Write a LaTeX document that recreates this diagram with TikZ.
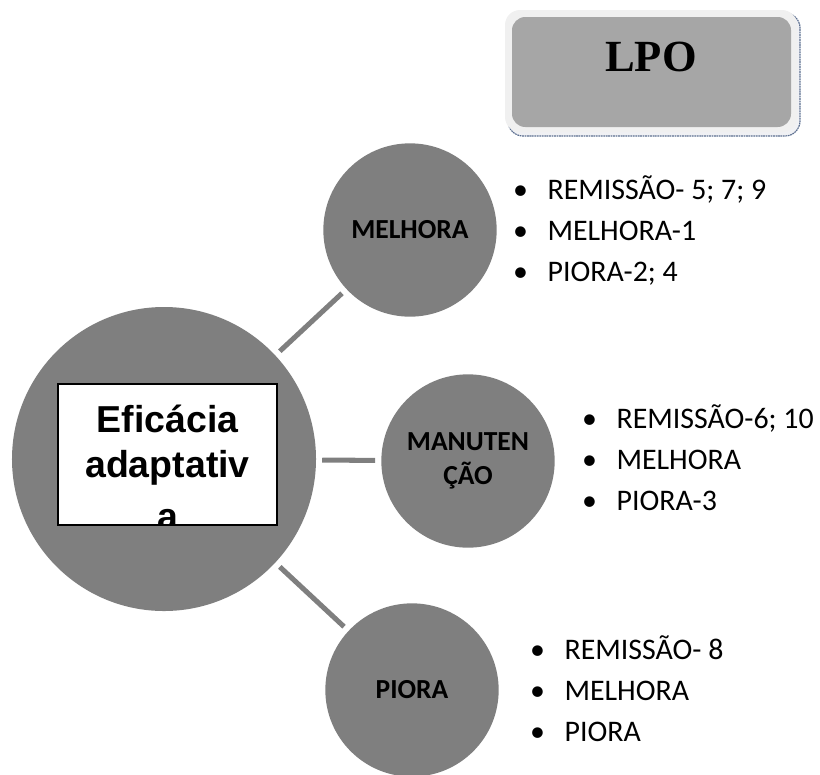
\documentclass[tikz,border=0pt]{standalone}
\usepackage{fontspec}
\setmainfont{Carlito}
\newfontfamily\gothicfont{Liberation Sans}
\newfontfamily\titlefont{Liberation Serif}
\usetikzlibrary{positioning}

\definecolor{bubble}{HTML}{7F7F7F}
\definecolor{lpogray}{HTML}{A6A6A6}
\definecolor{lpoframe}{HTML}{F0F0F0}
\definecolor{lposhadow}{HTML}{5B6E8F}

\begin{document}
\begin{tikzpicture}[x=0.03cm, y=-0.03cm,
    bubble/.style={circle, fill=bubble, inner sep=0pt, minimum size=5.2cm,
        align=center, font=\fontsize{23.5}{29}\selectfont\bfseries},
    hubbubble/.style={circle, fill=bubble, inner sep=0pt, minimum size=9.12cm},
    hubbox/.style={rectangle, draw=black, line width=1.2pt, fill=white,
        minimum width=6.57cm, minimum height=4.23cm},
    hubtext/.style={anchor=base, inner sep=0pt,
        font=\gothicfont\fontsize{32}{38}\selectfont\bfseries},
    link/.style={draw=bubble, line width=4.3pt, shorten <=0.18cm, shorten >=0.18cm},
    items/.style={anchor=west, align=left, inner sep=0pt,
        font=\fontsize{25.5}{35}\selectfont},
    lpotext/.style={font=\titlefont\fontsize{38}{42}\selectfont\bfseries}]

    % Page
    \useasboundingbox (0,0) rectangle (820,774);

    % Title box
    \fill[lpoframe!60!lposhadow!20, rounded corners=0.45cm] (508,13) rectangle (800,136);
    \draw[lposhadow, line width=1pt, dash pattern=on 1.5pt off 0.6pt, rounded corners=0.45cm]
        (508,13) rectangle (800,136);
    \fill[lpoframe, rounded corners=0.45cm] (505,10) rectangle (797,132);
    \fill[lpogray, rounded corners=0.4cm] (512,17) rectangle (791,127);
    \node[lpotext] (lpo) at (651,57) {LPO};

    % Circles
    \node[hubbubble] (hub) at (164,459) {};
    \node[bubble] (melhora) at (410,230) {MELHORA};
    \node[bubble] (manut) at (468,461) {MANUTEN\\ÇÃO};
    \node[bubble] (piora) at (412,690) {PIORA};

    % Text box in the big circle (third line is cut by the box)
    \node[hubbox, path picture={
        \node[hubtext] (l1) at ([shift={(0,-22.5)}]path picture bounding box.center) {Eficácia};
        \node[hubtext] (l2) at ([shift={(0,22.5)}]path picture bounding box.center) {adaptativ};
        \node[hubtext] (l3) at ([shift={(0,75)}]path picture bounding box.center) {a};
    }] (efic) at (167.5,454.5) {};

    % Connectors
    \draw[link] (hub) -- (melhora);
    \draw[link] (hub) -- (manut);
    \draw[link] (hub) -- (piora);

    % Lists
    \node[items] (lmel) at (513,231) {\makebox[1.15em][l]{•}REMISSÃO- 5; 7; 9\\
        \makebox[1.15em][l]{•}MELHORA-1\\ \makebox[1.15em][l]{•}PIORA-2; 4};
    \node[items] (lman) at (582,458) {\makebox[1.15em][l]{•}REMISSÃO-6; 10\\
        \makebox[1.15em][l]{•}MELHORA\\ \makebox[1.15em][l]{•}PIORA-3};
    \node[items] (lpio) at (530,689) {\makebox[1.15em][l]{•}REMISSÃO- 8\\
        \makebox[1.15em][l]{•}MELHORA\\ \makebox[1.15em][l]{•}PIORA};
\end{tikzpicture}
\end{document}
